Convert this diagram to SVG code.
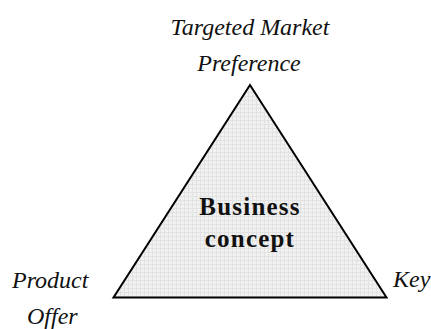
<svg xmlns="http://www.w3.org/2000/svg" width="431" height="329" viewBox="0 0 431 329">
  <style>
    .corner { font-family: "Liberation Serif", "Times New Roman", serif; font-style: italic; font-size: 24px; fill: #111; }
    .core { font-family: "Liberation Serif", "Times New Roman", serif; font-weight: bold; font-size: 25px; fill: #111; text-anchor: middle; }
    .tri { fill: url(#grid); stroke: #000; stroke-width: 2; stroke-linejoin: miter; }
  </style>
  <defs>
    <!-- faint grid texture inside the triangle -->
    <pattern id="grid" width="4" height="4" patternUnits="userSpaceOnUse">
      <rect width="4" height="4" fill="#f1f1f1"/>
      <path d="M0 0.5H4M0.5 0V4" stroke="#e2e2e2" stroke-width="1"/>
    </pattern>
  </defs>
  <rect width="431" height="329" fill="#fff"/>

  <g id="business-concept">
    <polygon class="tri" points="250,85 113.5,297.5 386.5,297.5"/>
    <text class="core" x="250" y="215" letter-spacing="1.2">Business</text>
    <text class="core" x="250" y="247" letter-spacing="1.2">concept</text>
  </g>

  <g id="targeted-market-preference">
    <text class="corner" x="250" y="35" text-anchor="middle">Targeted Market</text>
    <text class="corner" x="249" y="71" text-anchor="middle">Preference</text>
  </g>

  <g id="product-offer">
    <text class="corner" x="12" y="288">Product</text>
    <text class="corner" x="27" y="324">Offer</text>
  </g>

  <g id="key">
    <text class="corner" x="393" y="287">Key</text>
  </g>
</svg>
